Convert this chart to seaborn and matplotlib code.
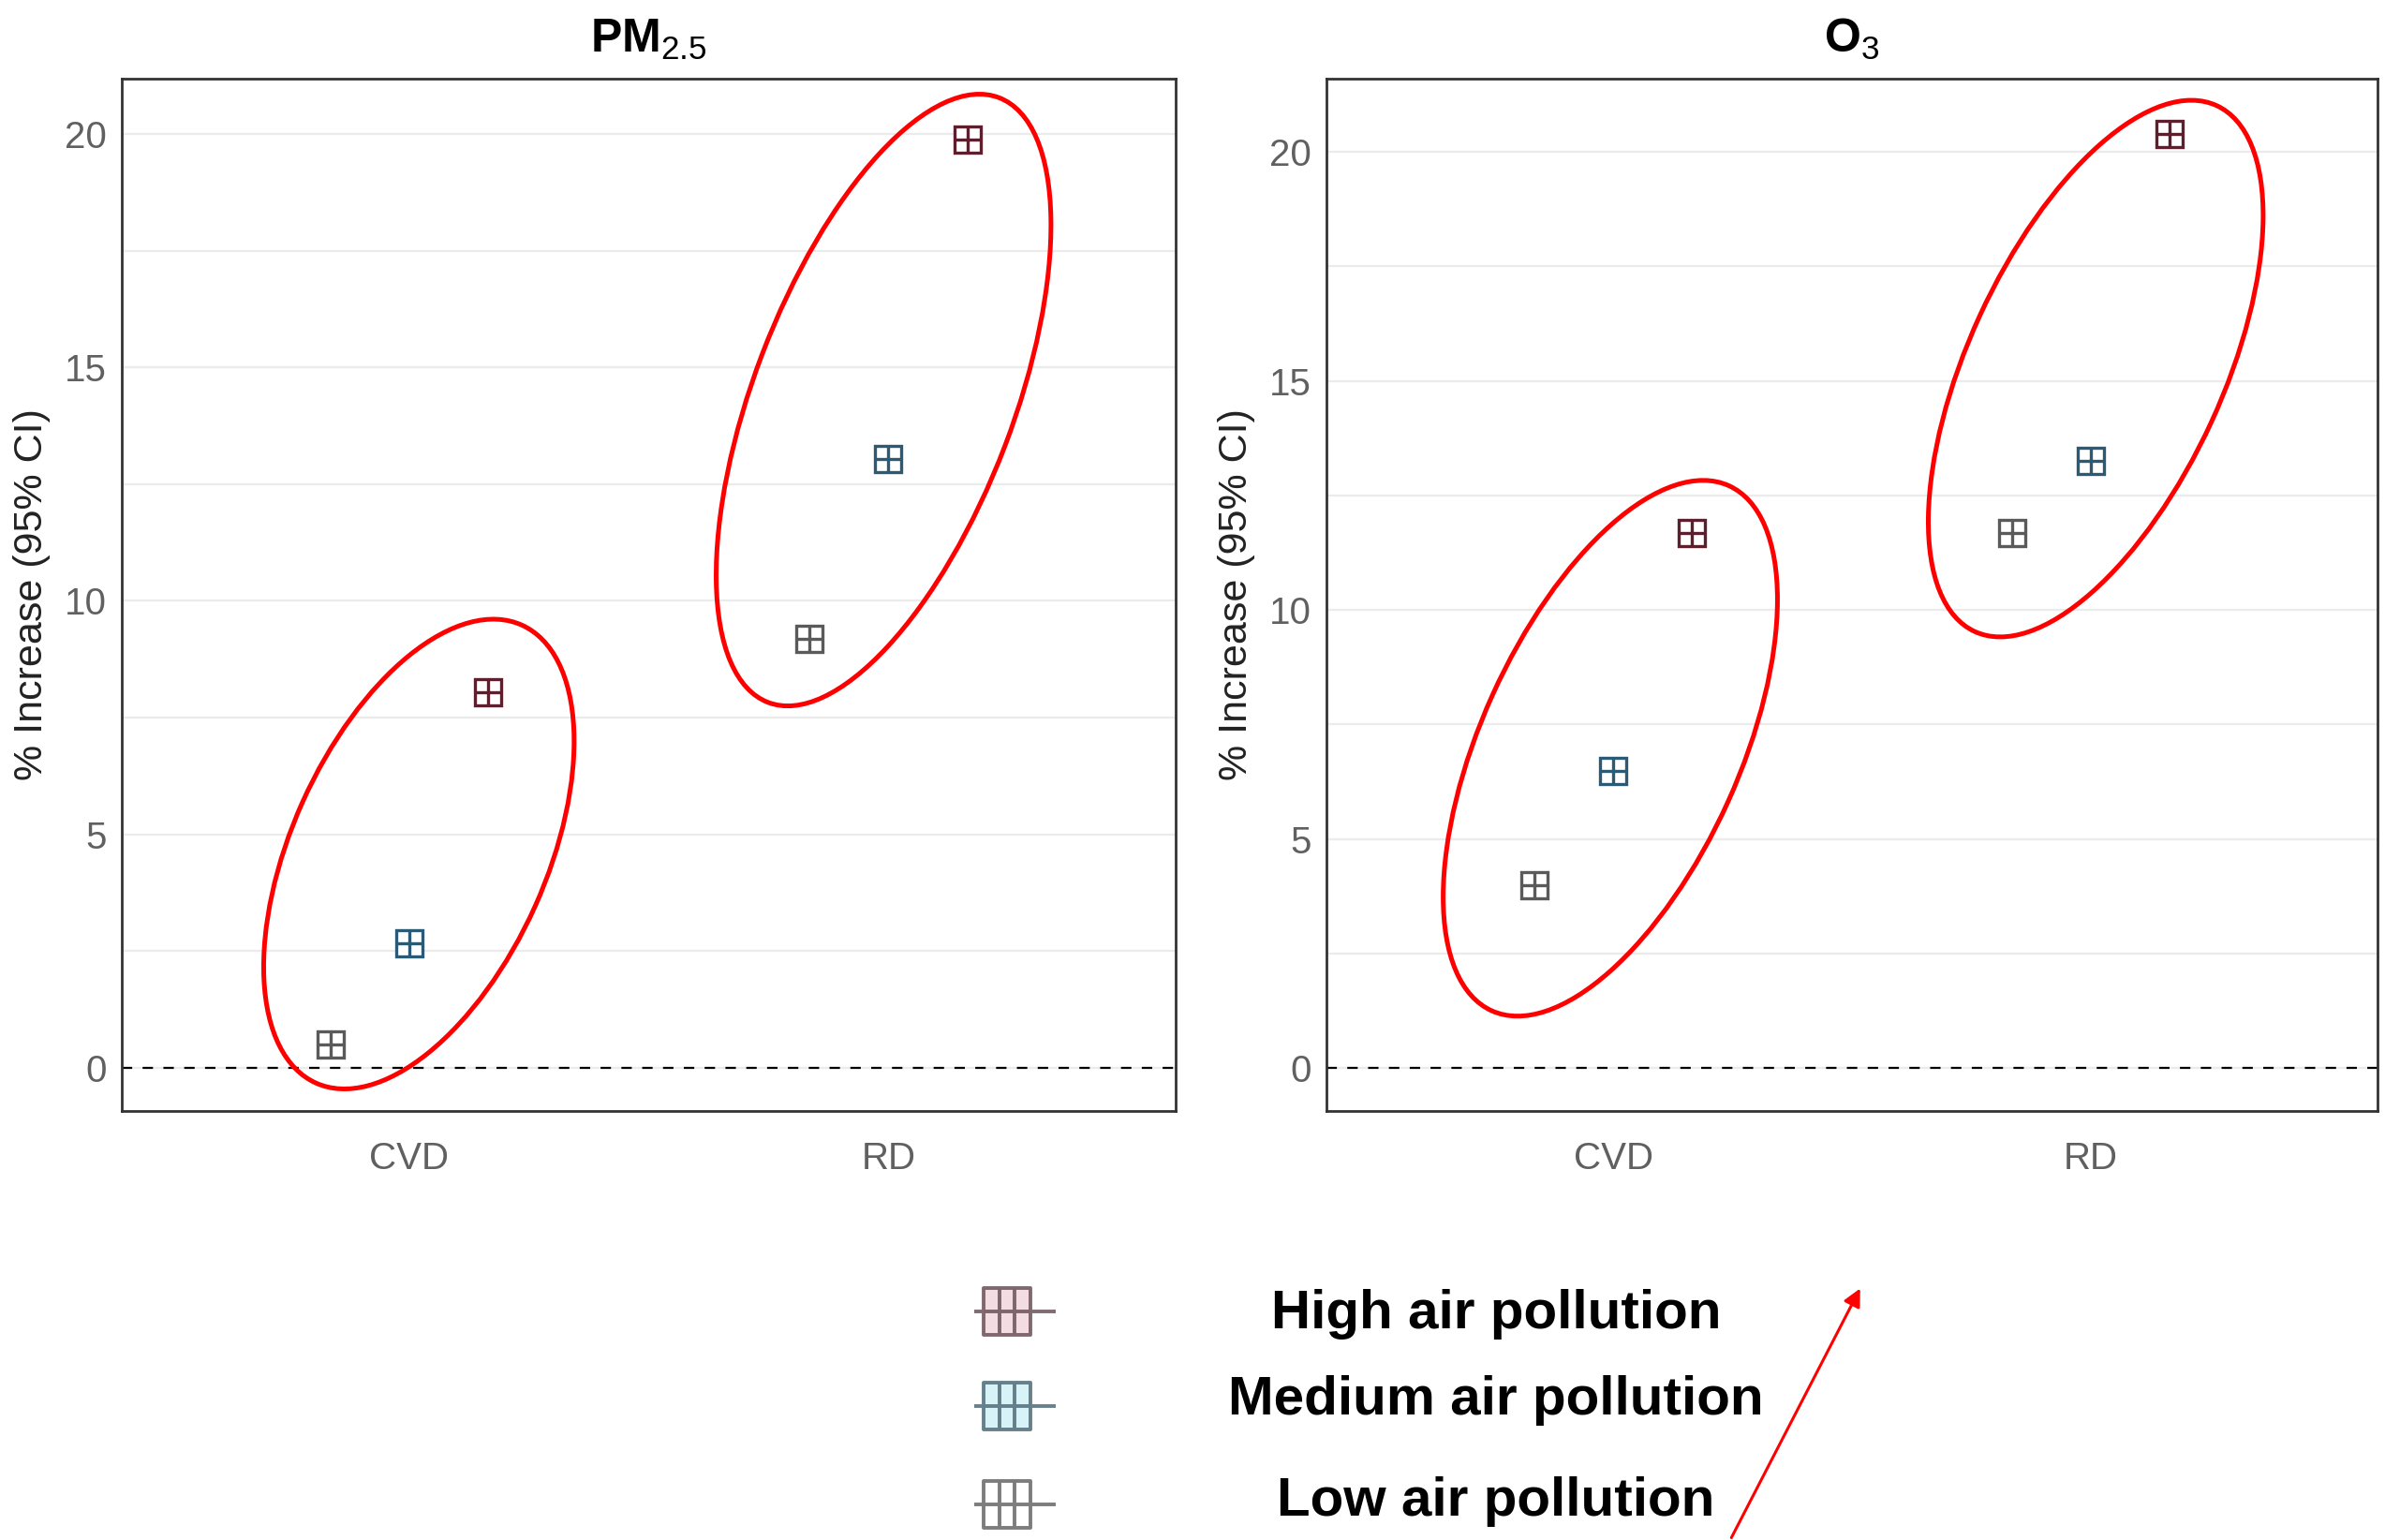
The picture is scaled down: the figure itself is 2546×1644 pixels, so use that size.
import numpy as np
import pandas as pd
import seaborn as sns
import matplotlib.pyplot as plt
import matplotlib.transforms as mtransforms
from matplotlib.patches import Ellipse
from matplotlib.lines import Line2D
from matplotlib.path import Path
from matplotlib.ticker import MultipleLocator

# values (% increase)
outcomes = ['CVD', 'RD']
levels = ['Low', 'Medium', 'High']
pm25_low = [0.50, 9.19]
pm25_medium = [2.67, 13.03]
pm25_high = [8.05, 19.87]
o3_low = [3.99, 11.69]
o3_medium = [6.48, 13.26]
o3_high = [11.69, 20.40]
legend_labels = ['High air pollution', 'Medium air pollution', 'Low air pollution']
palette = {'Low': '#5a5a5a', 'Medium': '#2b5a75', 'High': '#5c1f2e'}
leg_edge = {'High': '#6b5058', 'Medium': '#4d6b78', 'Low': '#666666'}
leg_fill = {'High': '#f3dde2', 'Medium': '#d8f3f8', 'Low': '#ffffff'}

sns.set_style('white')
plt.rcParams['font.family'] = ['Liberation Sans', 'DejaVu Sans']
plt.rcParams['mathtext.fontset'] = 'custom'
plt.rcParams['mathtext.rm'] = 'Liberation Sans'
plt.rcParams['mathtext.bf'] = 'Liberation Sans:bold'


def make_df(low, med, high):
    rows = []
    for lev, vals in zip(levels, [low, med, high]):
        for o, v in zip(outcomes, vals):
            rows.append({'outcome': o, 'level': lev, 'value': v})
    return pd.DataFrame(rows)


df_pm = make_df(pm25_low, pm25_medium, pm25_high)
df_o3 = make_df(o3_low, o3_medium, o3_high)

fig = plt.figure(figsize=(25.46, 16.44), dpi=100)
ax1 = fig.add_axes([0.0511, 0.2786, 0.4419, 0.6703])
ax2 = fig.add_axes([0.5562, 0.2786, 0.4407, 0.6703])


def ring(ax, cx, cy, w, h, ang):
    # ellipse sized in pixels, centred in data coords
    tr = mtransforms.Affine2D() + mtransforms.ScaledTranslation(cx, cy, ax.transData)
    e = Ellipse((0, 0), w, h, angle=ang, transform=tr, fill=False,
                ec='red', lw=3.6, zorder=5, clip_on=False)
    ax.add_patch(e)


def draw_panel(ax, df, title, ylim, rings):
    for mk in ['s', '+']:
        sns.pointplot(data=df, x='outcome', y='value', hue='level', order=outcomes,
                      hue_order=levels, palette=palette, markers=mk, linestyles='none',
                      dodge=0.33, errorbar=None, markersize=20, markeredgewidth=2.4,
                      markerfacecolor='white', legend=False, ax=ax)
    ax.set_xlim(-0.6, 1.6)
    ax.set_ylim(*ylim)
    ax.yaxis.set_major_locator(MultipleLocator(5))
    ax.yaxis.set_minor_locator(MultipleLocator(2.5))
    ax.grid(which='both', axis='y', color='#ebebeb', lw=1.6, zorder=0)
    ax.grid(False, axis='x')
    ax.set_axisbelow(True)
    ax.axhline(0, color='black', lw=1.6, ls=(0, (5, 5)), zorder=1)
    for s in ax.spines.values():
        s.set_color('#333333')
        s.set_linewidth(2)
    ax.tick_params(axis='both', which='major', length=7, width=1.5, color='#333333',
                   labelsize=29, labelcolor='#606060')
    ax.tick_params(axis='x', pad=16)
    ax.tick_params(axis='y', pad=5)
    ax.tick_params(which='minor', length=0)
    ax.set_xlabel('')
    ax.set_ylabel('% Increase (95% CI)', fontsize=31, color='#222222')
    ax.yaxis.set_label_coords(-0.068, 0.5)
    ax.set_title(title, fontsize=36, pad=20, color='black')
    for r in rings:
        ring(ax, *r)


draw_panel(ax1, df_pm, r'$\mathbf{PM}_{\mathrm{2.5}}$', (-0.92, 21.18),
           [(0.02, 4.58, 536, 272, 65.8), (0.99, 14.3, 691, 277, 69.1)])
draw_panel(ax2, df_o3, r'$\mathbf{O}_{\mathrm{3}}$', (-0.94, 21.6),
           [(-0.006, 6.98, 615, 276, 65.7), (1.01, 15.27, 618, 272, 65.3)])

# legend drawn by hand below the panels
verts = [(-0.5, -0.5), (0.5, -0.5), (0.5, 0.5), (-0.5, 0.5), (-0.5, -0.5),
         (-0.167, -0.5), (-0.167, 0.5), (0.167, -0.5), (0.167, 0.5), (-0.7, 0.0), (1.04, 0.0)]
codes = [Path.MOVETO, Path.LINETO, Path.LINETO, Path.LINETO, Path.CLOSEPOLY,
         Path.MOVETO, Path.LINETO, Path.MOVETO, Path.LINETO, Path.MOVETO, Path.LINETO]
leg_marker = Path(verts, codes)
leg_levels = ['High', 'Medium', 'Low']
marker_x = 1075 / 2546
marker_y = [1 - 1400 / 1644, 1 - 1501 / 1644, 1 - 1606 / 1644]
text_y = [1 - 1418 / 1644, 1 - 1510 / 1644, 1 - 1618 / 1644]
for lev, lab, my, ty in zip(leg_levels, legend_labels, marker_y, text_y):
    fig.add_artist(Line2D([marker_x], [my], transform=fig.transFigure, marker='s',
                          markersize=36, markeredgewidth=0, markerfacecolor=leg_fill[lev],
                          linestyle='none'))
    fig.add_artist(Line2D([marker_x], [my], transform=fig.transFigure, marker=leg_marker,
                          markersize=75, markeredgewidth=2.8, markerfacecolor='none',
                          markeredgecolor=leg_edge[lev], alpha=0.85, linestyle='none'))
    fig.text(0.6273, ty, lab, ha='center', va='baseline', fontsize=42,
             fontweight='bold', color='black')

ax2.annotate('', xy=(1987 / 2546, 1 - 1373 / 1644), xycoords='figure fraction',
             xytext=(1847 / 2546, 0.0), textcoords='figure fraction',
             arrowprops=dict(arrowstyle='-|>', color='red', lw=2.2, mutation_scale=28),
             annotation_clip=False)

fig.savefig('out.png', dpi=100)
